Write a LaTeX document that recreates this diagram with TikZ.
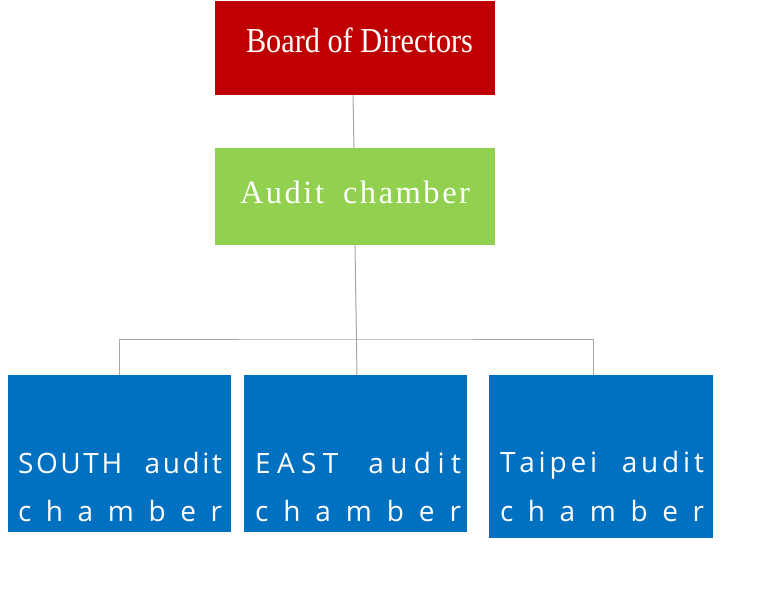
\documentclass[tikz,border=0pt]{standalone}
\usepackage{graphicx}
\usepackage{fontspec}
\setmainfont{Liberation Serif}
\newfontfamily\bluefont{Open Sans}
\definecolor{boardred}{HTML}{C00000}
\definecolor{auditgreen}{HTML}{92D050}
\definecolor{unitblue}{HTML}{0070C0}
\definecolor{linegray}{HTML}{A6A6A6}
\begin{document}
\begin{tikzpicture}[x=1pt,y=-1pt,
  box/.style={rectangle, draw=none, inner sep=0pt, outer sep=0pt},
  conn/.style={draw=linegray, line width=1pt},
  txt/.style={inner sep=0pt, outer sep=0pt, text=white, anchor=base west},
  bluetxt/.style={txt, font=\bluefont\fontsize{28}{32}\selectfont}]
\useasboundingbox (0,0) rectangle (768,614);
% boxes
\node[box, fill=boardred, minimum width=280pt, minimum height=94pt] (board) at (355,48) {};
\node[box, fill=auditgreen, minimum width=280pt, minimum height=97pt] (audit) at (355,196.5) {};
\node[box, fill=unitblue, minimum width=223pt, minimum height=157pt] (south) at (119.5,453.5) {};
\node[box, fill=unitblue, minimum width=223pt, minimum height=157pt] (east) at (355.5,453.5) {};
\node[box, fill=unitblue, minimum width=224pt, minimum height=163pt] (taipei) at (601,456.5) {};
% connectors
\coordinate (bus) at (355,339);
\draw[conn] ([xshift=-2pt]board.south) -- ([xshift=-1pt]audit.north);
\draw[conn] (audit.south) -- ([xshift=1.5pt]east.north);
\draw[conn] (south.north) |- (bus) -| ([xshift=-8pt]taipei.north);
% texts
\node[txt] (boardtxt) at (246,52) {\fontsize{35}{40}\selectfont\resizebox{227pt}{\height}{Board of Directors}};
\node[txt] (audittxt) at (240,203) {\fontsize{32.5}{36}\selectfont\makebox[230pt][s]{A\hfill u\hfill d\hfill i\hfill t\hfill\hspace{14pt}\hfill c\hfill h\hfill a\hfill m\hfill b\hfill e\hfill r}};
\node[bluetxt] (southa) at (18,473) {\makebox[204pt][s]{S\hfill O\hfill U\hfill T\hfill H\hfill\hspace{17pt}\hfill a\hfill u\hfill d\hfill i\hfill t}};
\node[bluetxt] (southb) at (18,521.5) {\makebox[204pt][s]{c\hfill h\hfill a\hfill m\hfill b\hfill e\hfill r}};
\node[bluetxt] (easta) at (255,473) {\makebox[206pt][s]{E\hfill A\hfill S\hfill T\hfill\hspace{17pt}\hfill a\hfill u\hfill d\hfill i\hfill t}};
\node[bluetxt] (eastb) at (255,521.5) {\makebox[206pt][s]{c\hfill h\hfill a\hfill m\hfill b\hfill e\hfill r}};
\node[bluetxt] (taipeia) at (500,472) {\makebox[204pt][s]{T\hfill a\hfill i\hfill p\hfill e\hfill i\hfill\hspace{17pt}\hfill a\hfill u\hfill d\hfill i\hfill t}};
\node[bluetxt] (taipeib) at (500,521) {\makebox[204pt][s]{c\hfill h\hfill a\hfill m\hfill b\hfill e\hfill r}};
\end{tikzpicture}
\end{document}
